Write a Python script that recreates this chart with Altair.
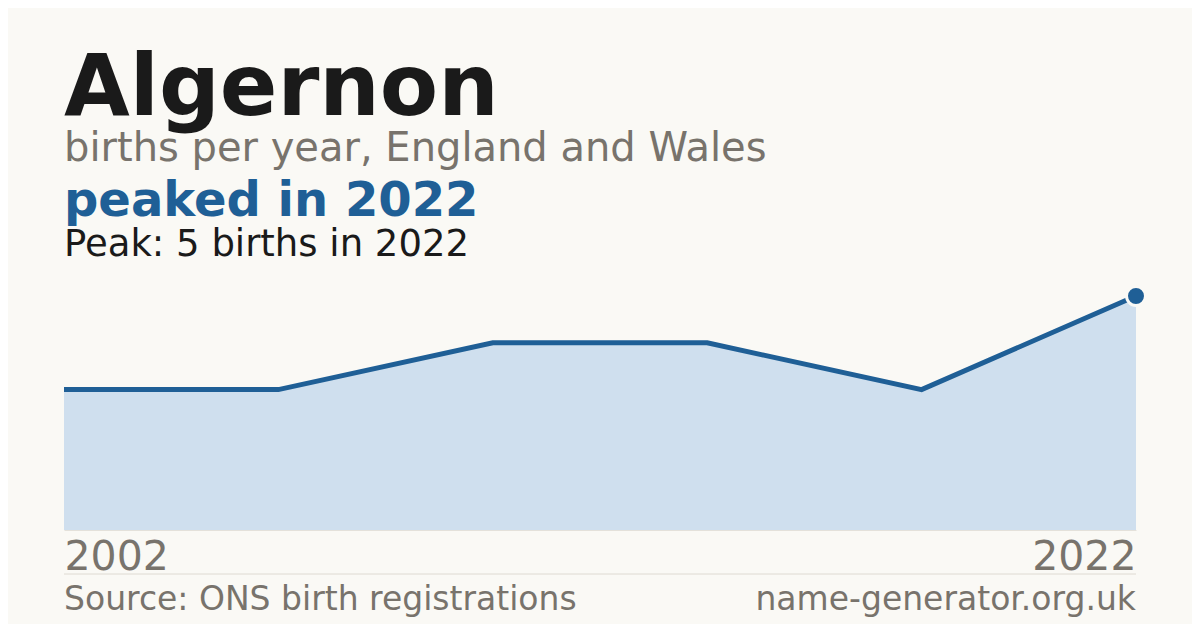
import altair as alt
import pandas as pd

years = [2002, 2006, 2010, 2014, 2018, 2022]
births = [3, 3, 4, 4, 3, 5]
peak_year = [2022]
peak_births = [5]

BG = "#faf9f5"
BLUE = "#1f5f96"
FILL = "#cfdfee"
GRAY = "#78736c"
DARK = "#1a1a1a"
FONT = "DejaVu Sans"

df = pd.DataFrame({"year": years, "births": births})
peak = pd.DataFrame({"year": peak_year, "births": peak_births})

x = alt.X("year:Q", scale=alt.Scale(domain=[2002, 2022], nice=False, zero=False),
          axis=alt.Axis(values=[2002, 2022], format="d", title=None, labelFlush=True,
                        labelFontSize=41, labelColor=GRAY, labelFont=FONT,
                        ticks=False, grid=False, domain=True, domainColor="#e4e1da",
                        labelPadding=7))
y = alt.Y("births:Q", scale=alt.Scale(domain=[0, 5], nice=False), axis=None)

area = alt.Chart(df).mark_area(color=FILL, opacity=1).encode(x=x, y=y)
line = alt.Chart(df).mark_line(color=BLUE, strokeWidth=5).encode(x=x, y=y)
dot = alt.Chart(peak).mark_point(filled=True, shape="circle", size=360, color=BLUE,
                                 stroke=BG, strokeWidth=3, opacity=1).encode(x=x, y=y)

def txt(s, yv, size, color, weight="normal", align="left", xv=0):
    return alt.Chart(pd.DataFrame({"t": [s]})).mark_text(
        align=align, baseline="alphabetic", fontSize=size, font=FONT,
        fontWeight=weight, color=color
    ).encode(text="t:N", x=alt.value(xv), y=alt.value(yv))

# plot area top at page y=296, left at page x=64
T = 296
texts = [
    txt("Algernon", 115 - T, 85, DARK, "bold"),
    txt("births per year, England and Wales", 161 - T, 40, GRAY),
    txt("peaked in 2022", 216 - T, 48, BLUE, "bold"),
    txt("Peak: 5 births in 2022", 256 - T, 37, DARK),
    txt("Source: ONS birth registrations", 610 - T, 33, GRAY),
    txt("name-generator.org.uk", 610 - T, 33, GRAY, align="right", xv=1072),
]
divider = alt.Chart(pd.DataFrame({"a": [0]})).mark_rule(color="#dedad2", strokeWidth=1).encode(
    x=alt.value(0), x2=alt.value(1072), y=alt.value(574 - T))

chart = alt.layer(area, line, dot, divider, *texts).properties(
    width=1072, height=234, background=BG,
    padding={"left": 56, "top": 288, "right": 56, "bottom": 94},
    autosize=alt.AutoSizeParams(type="none"),
).configure_view(stroke=None)

chart.save("out.html", embed_options={"renderer": "svg", "actions": False})
